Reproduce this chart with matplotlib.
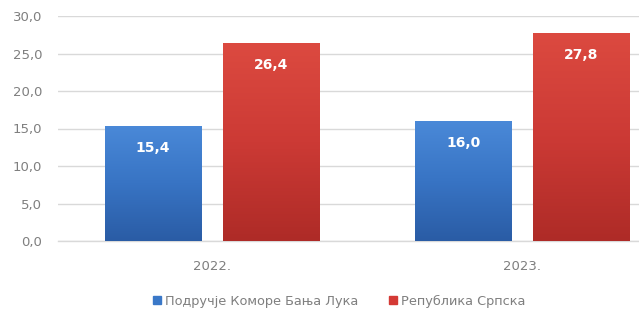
import matplotlib
matplotlib.use("Agg")
import matplotlib.pyplot as plt
import numpy as np
from matplotlib.colors import LinearSegmentedColormap
from matplotlib.patches import Rectangle

years = ["2022.", "2023."]
series_names = ["Подручје Коморе Бања Лука", "Република Српска"]
banja_luka = [15.4, 16.0]
srpska = [26.4, 27.8]
yticks = [0, 5, 10, 15, 20, 25, 30]

fig = plt.figure(figsize=(6.39, 3.12), dpi=100)
ax = fig.add_axes([58/639, (312-241)/312, 1 - 58/639, (241-16)/312])

x = np.arange(len(years))
w = 0.31
off = 0.19

cmap_blue = LinearSegmentedColormap.from_list("b", ["#2a5ca5", "#3874c4", "#4a89d8"])
cmap_red = LinearSegmentedColormap.from_list("r", ["#ae2b27", "#cc3a35", "#dc4a40"])

def grad_bars(xs, vals, cmap, base):
    bars = ax.bar(xs, vals, w, color=base, edgecolor="none", zorder=2)
    grad = np.linspace(0, 1, 256).reshape(-1, 1)
    for b in bars:
        x0, y0 = b.get_x(), b.get_y()
        bw, bh = b.get_width(), b.get_height()
        im = ax.imshow(grad, extent=(x0, x0 + bw, y0, y0 + bh), origin="lower",
                       cmap=cmap, aspect="auto", zorder=3)
        im.set_clip_path(b)
    return bars

b1 = grad_bars(x - off, banja_luka, cmap_blue, "#3a78c8")
b2 = grad_bars(x + off, srpska, cmap_red, "#d43a35")

for bars, vals in ((b1, banja_luka), (b2, srpska)):
    for b, v in zip(bars, vals):
        ax.annotate(f"{v:.1f}".replace(".", ","),
                    (b.get_x() + b.get_width() / 2, v),
                    xytext=(0, -16), textcoords="offset points",
                    ha="center", va="center", color="white",
                    fontsize=10, fontweight="bold", zorder=5)

ax.set_xlim(-0.497, 1.377)
ax.set_ylim(0, 30)
ax.set_yticks(yticks)
ax.set_yticklabels([f"{t:.1f}".replace(".", ",") for t in yticks])
ax.set_xticks(x)
ax.set_xticklabels(years)
ax.grid(axis="y", color="#d9d9d9", linewidth=1, zorder=0)
ax.axhline(0, color="#d9d9d9", linewidth=1, zorder=1, clip_on=False)
ax.set_axisbelow(True)
for s in ax.spines.values():
    s.set_visible(False)
ax.tick_params(axis="both", length=0, colors="#7f7f7f", labelsize=9.5)
ax.tick_params(axis="y", pad=11.5)
ax.tick_params(axis="x", pad=14)

handles = [Rectangle((0, 0), 1, 1, color="#3a78c8"), Rectangle((0, 0), 1, 1, color="#d43a35")]
fig.legend(handles, series_names, loc="center", bbox_to_anchor=(339/639, 1 - 301/312),
           ncol=2, frameon=False, fontsize=9.3, labelcolor="#7f7f7f",
           handlelength=0.6, handleheight=0.6, handletextpad=0.3, columnspacing=2.4)

fig.savefig("out.png", dpi=100)
